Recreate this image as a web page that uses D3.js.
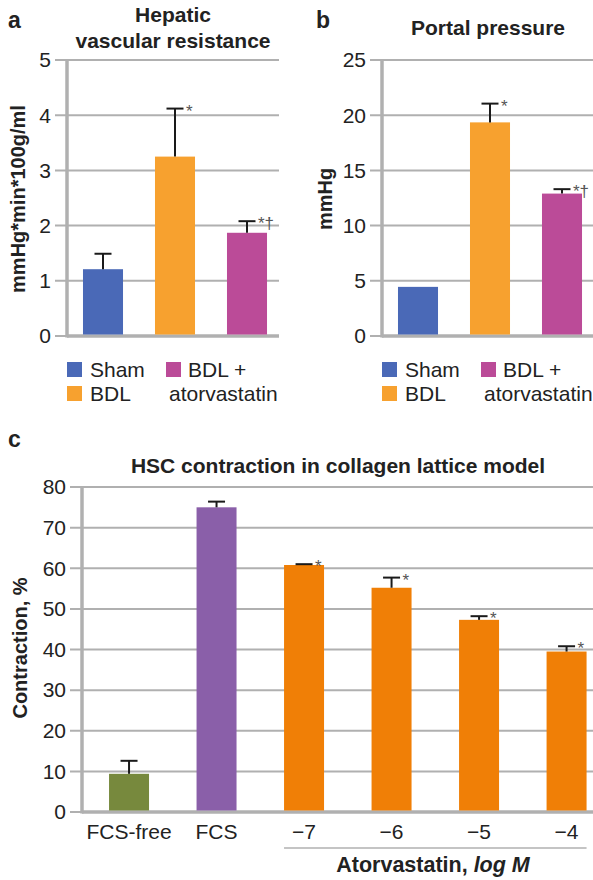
<!DOCTYPE html>
<html>
  <head>
    <title>Atorvastatin panels</title>
    <script src="https://d3js.org/d3.v7.min.js"></script>
    <style>
      body { margin: 0; background: #fff; }
      svg text { font-family: "Liberation Sans", Arial, sans-serif; fill: #222; }
    </style>
  </head>

  <body>
    <svg width="593" height="880"></svg>

    <script type="text/javascript">
      // panels a and b
      var groupsAB = ["Sham", "BDL", "BDL + atorvastatin"];
      var colorsAB = ["#4a69b7", "#f7a12f", "#bb4b98"];
      var hvrMean = [1.21, 3.25, 1.87];
      var hvrErr = [0.28, 0.87, 0.21];
      var ppMean = [4.45, 19.35, 12.9];
      var ppErr = [0, 1.7, 0.4];
      var marksAB = ["", "*", "*\u2020"];
      var hvrTicks = [0, 1, 2, 3, 4, 5];
      var ppTicks = [0, 5, 10, 15, 20, 25];

      // panel c
      var groupsC = ["FCS-free", "FCS", "\u22127", "\u22126", "\u22125", "\u22124"];
      var colorsC = ["#77893d", "#8a5fa9", "#f07f06", "#f07f06", "#f07f06", "#f07f06"];
      var contrMean = [9.4, 75.0, 60.8, 55.2, 47.3, 39.5];
      var contrErr = [3.2, 1.4, 0.2, 2.5, 0.9, 1.3];
      var marksC = ["", "", "*", "*", "*", "*"];
      var contrTicks = [0, 10, 20, 30, 40, 50, 60, 70, 80];

      var svg = d3.select("svg");
      var grid = "#b0b0b0";

      function barPanel(o) {
        var g = svg.append("g");

        var y = d3.scaleLinear().domain(o.domain).range([o.y0, o.y1]);
        var x = d3
          .scaleBand()
          .domain(o.groups)
          .range([o.ax, o.xEnd])
          .paddingInner(o.pIn)
          .paddingOuter(o.pOut);

        // gridlines
        g.selectAll("line.grid")
          .data(o.ticks)
          .enter()
          .append("line")
          .attr("x1", o.ax - 12)
          .attr("x2", o.gridEnd)
          .attr("y1", function (d) { return y(d); })
          .attr("y2", function (d) { return y(d); })
          .style("stroke", grid)
          .style("stroke-width", 2);

        g.selectAll("text.tick")
          .data(o.ticks)
          .enter()
          .append("text")
          .attr("x", o.ax - 16)
          .attr("y", function (d) { return y(d); })
          .attr("dy", "0.35em")
          .attr("text-anchor", "end")
          .style("font-size", "21px")
          .text(function (d) { return d; });

        // axis lines
        g.append("line")
          .attr("x1", o.ax).attr("x2", o.ax)
          .attr("y1", y(o.domain[1])).attr("y2", o.y0 + 1.5)
          .style("stroke", grid).style("stroke-width", 3.5);
        g.append("line")
          .attr("x1", o.ax).attr("x2", o.gridEnd)
          .attr("y1", o.y0).attr("y2", o.y0)
          .style("stroke", grid).style("stroke-width", 3.5);

        // bars
        g.selectAll("rect.bar")
          .data(o.mean)
          .enter()
          .append("rect")
          .attr("x", function (d, i) { return x(o.groups[i]); })
          .attr("y", function (d) { return y(d); })
          .attr("width", x.bandwidth())
          .attr("height", function (d) { return o.y0 - 1.5 - y(d); })
          .style("fill", function (d, i) { return o.colors[i]; });

        // error bars
        o.mean.forEach(function (m, i) {
          if (!o.err[i]) return;
          var cx = x(o.groups[i]) + x.bandwidth() / 2;
          var top = y(m + o.err[i]);
          g.append("line")
            .attr("x1", cx).attr("x2", cx)
            .attr("y1", y(m)).attr("y2", top)
            .style("stroke", "#1a1a1a").style("stroke-width", 2);
          g.append("line")
            .attr("x1", cx - 8.5).attr("x2", cx + 8.5)
            .attr("y1", top).attr("y2", top)
            .style("stroke", "#1a1a1a").style("stroke-width", 2);
        });

        // significance marks
        g.selectAll("text.mark")
          .data(o.marks)
          .enter()
          .append("text")
          .attr("x", function (d, i) { return x(o.groups[i]) + x.bandwidth() / 2 + 11; })
          .attr("y", function (d, i) { return y(o.mean[i] + o.err[i]) + 8; })
          .style("font-size", "17px")
          .style("fill", "#555")
          .text(function (d) { return d; });

        // y label
        g.append("text")
          .attr("transform", "translate(" + o.labelX + "," + o.labelY + ") rotate(-90)")
          .attr("text-anchor", "middle")
          .attr("dy", "0.35em")
          .style("font-size", "20px")
          .style("font-weight", "bold")
          .text(o.label);

        return { g: g, x: x, y: y };
      }

      function legendAB(dx) {
        var g = svg.append("g").attr("transform", "translate(" + dx + ",0)");
        var items = [
          { sx: 67, sy: 362, tx: 90, ty: 377, t: groupsAB[0], c: colorsAB[0] },
          { sx: 67, sy: 386, tx: 90, ty: 401, t: groupsAB[1], c: colorsAB[1] },
          { sx: 166, sy: 362, tx: 188, ty: 377, t: "BDL +", c: colorsAB[2] }
        ];
        items.forEach(function (it) {
          g.append("rect")
            .attr("x", it.sx).attr("y", it.sy)
            .attr("width", 15).attr("height", 15)
            .style("fill", it.c);
          g.append("text")
            .attr("x", it.tx).attr("y", it.ty)
            .style("font-size", "21px")
            .text(it.t);
        });
        g.append("text")
          .attr("x", 169).attr("y", 401)
          .style("font-size", "21px")
          .text("atorvastatin");
      }

      // ---- panel a
      barPanel({
        groups: groupsAB, colors: colorsAB, mean: hvrMean, err: hvrErr, marks: marksAB,
        domain: [0, 5], ticks: hvrTicks, y0: 336, y1: 60,
        ax: 67, xEnd: 283, gridEnd: 279, pIn: 0.444, pOut: 0.222,
        label: "mmHg*min*100g/ml", labelX: 18, labelY: 199
      });
      legendAB(0);
      svg.append("text").attr("x", 8).attr("y", 28)
        .style("font-size", "23px").style("font-weight", "bold").text("a");
      svg.append("text").attr("x", 173).attr("y", 22).attr("text-anchor", "middle")
        .style("font-size", "21px").style("font-weight", "bold").text("Hepatic");
      svg.append("text").attr("x", 173).attr("y", 48).attr("text-anchor", "middle")
        .style("font-size", "21px").style("font-weight", "bold").text("vascular resistance");

      // ---- panel b
      barPanel({
        groups: groupsAB, colors: colorsAB, mean: ppMean, err: ppErr, marks: marksAB,
        domain: [0, 25], ticks: ppTicks, y0: 336, y1: 60,
        ax: 382, xEnd: 598, gridEnd: 593, pIn: 0.444, pOut: 0.222,
        label: "mmHg", labelX: 325, labelY: 199
      });
      legendAB(315);
      svg.append("text").attr("x", 316).attr("y", 28)
        .style("font-size", "23px").style("font-weight", "bold").text("b");
      svg.append("text").attr("x", 488).attr("y", 35).attr("text-anchor", "middle")
        .style("font-size", "21px").style("font-weight", "bold").text("Portal pressure");

      // ---- panel c
      var pc = barPanel({
        groups: groupsC, colors: colorsC, mean: contrMean, err: contrErr, marks: marksC,
        domain: [0, 80], ticks: contrTicks, y0: 812, y1: 487,
        ax: 82, xEnd: 613.6, gridEnd: 593, pIn: 0.543, pOut: 0.309,
        label: "Contraction, %", labelX: 20, labelY: 648
      });
      pc.g.selectAll("text.xlab")
        .data(groupsC)
        .enter()
        .append("text")
        .attr("x", function (d) { return pc.x(d) + pc.x.bandwidth() / 2; })
        .attr("y", 839)
        .attr("text-anchor", "middle")
        .style("font-size", "21px")
        .text(function (d) { return d; });
      pc.g.append("line")
        .attr("x1", pc.x(groupsC[2])).attr("x2", pc.x(groupsC[5]) + pc.x.bandwidth())
        .attr("y1", 848).attr("y2", 848)
        .style("stroke", grid).style("stroke-width", 1.5);
      var at = pc.g.append("text")
        .attr("x", 433).attr("y", 872)
        .attr("text-anchor", "middle")
        .style("font-size", "21.5px")
        .style("font-weight", "bold");
      at.append("tspan").text("Atorvastatin, ");
      at.append("tspan").style("font-style", "italic").text("log M");

      svg.append("text").attr("x", 8).attr("y", 447)
        .style("font-size", "23px").style("font-weight", "bold").text("c");
      svg.append("text").attr("x", 338).attr("y", 473).attr("text-anchor", "middle")
        .style("font-size", "21px").style("font-weight", "bold")
        .text("HSC contraction in collagen lattice model");
    </script>
  </body>
</html>
